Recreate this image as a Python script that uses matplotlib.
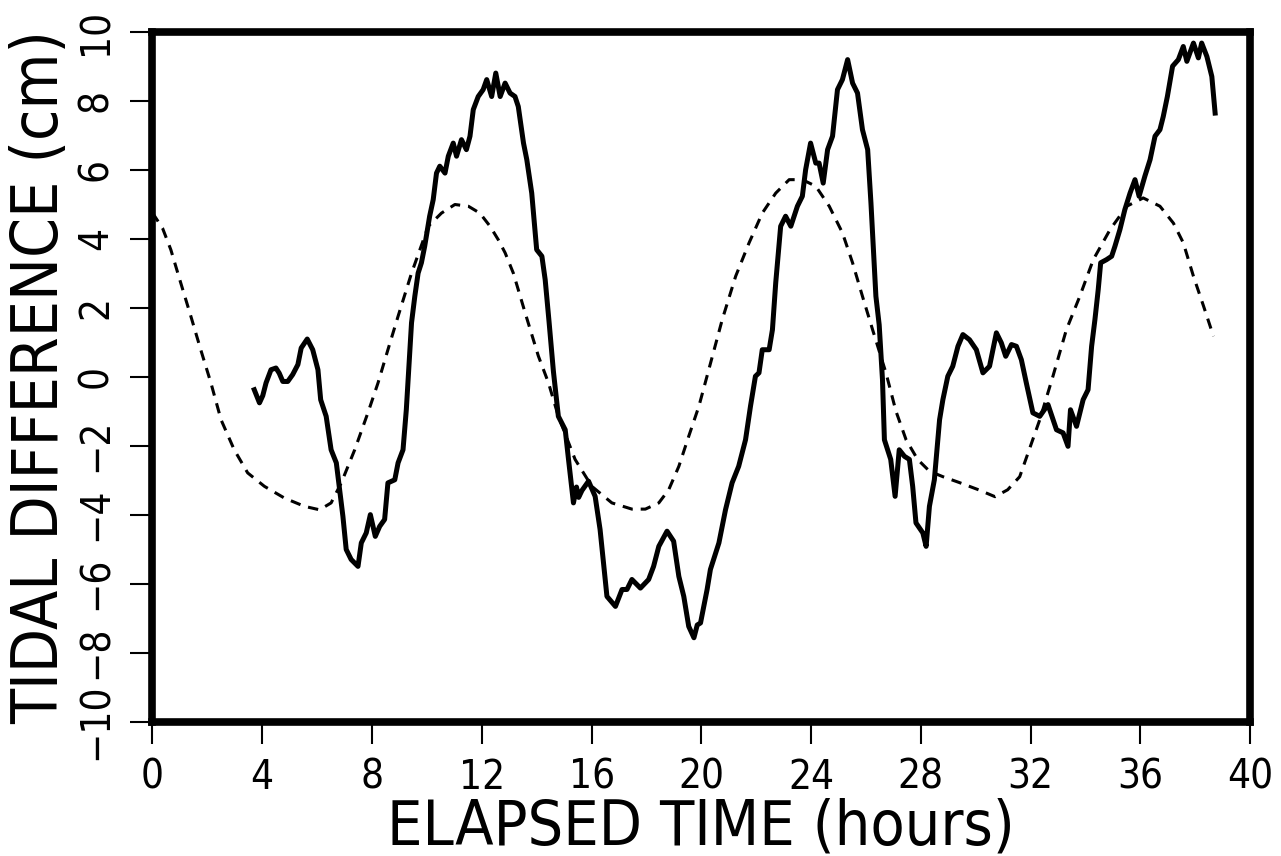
import matplotlib
matplotlib.use("Agg")
import matplotlib.pyplot as plt
from matplotlib import font_manager

# observed tidal difference (solid)
obs_time = [3.71, 3.9, 4.02, 4.14, 4.32, 4.5, 4.62, 4.75, 4.93, 5.11, 5.3, 5.42, 5.64, 5.84,
            6.03, 6.13, 6.33, 6.51, 6.7, 6.82, 6.94, 7.06, 7.24, 7.49, 7.61, 7.79, 7.94, 8.12,
            8.28, 8.46, 8.58, 8.83, 8.95, 9.13, 9.25, 9.38, 9.44, 9.56, 9.68, 9.8, 9.92, 10.1,
            10.23, 10.35, 10.47, 10.66, 10.78, 10.96, 11.08, 11.26, 11.44, 11.57, 11.69, 11.87,
            12.05, 12.18, 12.36, 12.51, 12.67, 12.85, 13.03, 13.21, 13.33, 13.52, 13.64, 13.82,
            14.0, 14.19, 14.31, 14.45, 14.61, 14.79, 15.04, 15.16, 15.34, 15.45, 15.53, 15.65,
            15.89, 16.13, 16.31, 16.56, 16.87, 17.11, 17.29, 17.47, 17.78, 18.08, 18.26, 18.45,
            18.75, 18.99, 19.18, 19.36, 19.54, 19.73, 19.85, 19.97, 20.21, 20.33, 20.64, 20.88,
            21.12, 21.36, 21.61, 21.79, 21.97, 22.1, 22.22, 22.47, 22.59, 22.71, 22.89, 23.07,
            23.26, 23.5, 23.68, 23.8, 23.98, 24.17, 24.29, 24.44, 24.6, 24.78, 24.96, 25.14,
            25.33, 25.51, 25.69, 25.87, 26.06, 26.18, 26.36, 26.48, 26.6, 26.67, 26.9, 27.06,
            27.21, 27.4, 27.58, 27.7, 27.82, 28.07, 28.19, 28.31, 28.49, 28.68, 28.8, 28.98,
            29.16, 29.35, 29.53, 29.77, 30.02, 30.26, 30.5, 30.75, 30.93, 31.09, 31.3, 31.48,
            31.66, 31.84, 32.08, 32.33, 32.63, 32.94, 33.18, 33.36, 33.45, 33.67, 33.91, 34.09,
            34.22, 34.34, 34.46, 34.55, 34.76, 34.95, 35.07, 35.25, 35.43, 35.62, 35.8, 35.95,
            36.16, 36.35, 36.53, 36.71, 36.83, 36.98, 37.17, 37.38, 37.56, 37.69, 37.93, 38.11,
            38.23, 38.42, 38.6, 38.72]
obs_diff = [-0.38, -0.76, -0.55, -0.18, 0.2, 0.25, 0.1, -0.14, -0.14, 0.06, 0.35, 0.83, 1.09, 0.78,
            0.2, -0.67, -1.15, -2.12, -2.5, -3.28, -4.05, -5.01, -5.3, -5.5, -4.82, -4.53, -4.0, -4.63,
            -4.34, -4.14, -3.08, -2.99, -2.5, -2.12, -0.96, 0.78, 1.56, 2.33, 3.0, 3.3, 3.78, 4.65,
            5.13, 5.9, 6.1, 5.9, 6.39, 6.77, 6.39, 6.87, 6.58, 6.97, 7.74, 8.12,
            8.32, 8.61, 8.12, 8.8, 8.12, 8.51, 8.22, 8.12, 7.83, 6.77, 6.29, 5.32,
            3.68, 3.49, 2.81, 1.6, 0.15, -1.15, -1.54, -2.4, -3.66, -3.2, -3.5, -3.3,
            -3.03, -3.47, -4.43, -6.37, -6.66, -6.17, -6.17, -5.88, -6.13, -5.88, -5.5, -4.92,
            -4.48, -4.77, -5.79, -6.37, -7.24, -7.57, -7.2, -7.14, -6.17, -5.59, -4.82, -3.86,
            -3.08, -2.6, -1.83, -0.86, 0.01, 0.11, 0.78, 0.78, 1.36, 2.72, 4.36, 4.65,
            4.36, 4.94, 5.23, 6.0, 6.77, 6.19, 6.19, 5.61, 6.58, 6.97, 8.32, 8.61,
            9.19, 8.51, 8.22, 7.16, 6.58, 5.03, 2.33, 1.5, -0.09, -1.83, -2.4, -3.47,
            -2.12, -2.31, -2.4, -3.18, -4.24, -4.53, -4.92, -3.76, -2.99, -1.25, -0.67, 0.01,
            0.3, 0.88, 1.22, 1.07, 0.78, 0.11, 0.3, 1.27, 0.98, 0.59, 0.93, 0.88,
            0.49, -0.18, -1.05, -1.15, -0.81, -1.54, -1.63, -2.02, -0.96, -1.44, -0.67, -0.38,
            0.88, 1.65, 2.52, 3.3, 3.39, 3.49, 3.78, 4.26, 4.84, 5.32, 5.71, 5.23,
            5.81, 6.29, 6.97, 7.16, 7.54, 8.12, 9.0, 9.19, 9.57, 9.14, 9.67, 9.24,
            9.67, 9.28, 8.7, 7.64]

# predicted tidal difference (dashed)
pred_time = [0.0, 0.37, 0.67, 1.03, 1.4, 1.76, 2.13, 2.5, 2.98, 3.47, 4.08, 4.81, 5.54, 6.09,
             6.51, 6.88, 7.37, 7.85, 8.22, 8.58, 8.95, 9.44, 10.05, 10.53, 11.02, 11.51, 11.93,
             12.3, 12.6, 12.85, 13.15, 13.58, 14.06, 14.43, 14.79, 15.4, 16.01, 16.74, 17.47,
             17.96, 18.45, 18.81, 19.18, 19.54, 19.91, 20.27, 20.76, 21.25, 21.74, 22.22, 22.71,
             23.2, 23.68, 24.17, 24.66, 25.14, 25.51, 25.87, 26.24, 26.73, 27.09, 27.46, 27.88,
             28.31, 28.8, 29.4, 30.1, 30.7, 31.16, 31.6, 32.33, 32.81, 33.3, 33.79, 34.28, 34.89,
             35.5, 36.1, 36.71, 37.2, 37.56, 37.93, 38.3, 38.66]
pred_diff = [4.75, 4.3, 3.68, 2.72, 1.75, 0.78, -0.18, -1.25, -2.12, -2.79, -3.18, -3.52, -3.76, -3.86,
             -3.66, -3.08, -2.12, -1.05, -0.18, 0.78, 1.75, 3.0, 4.36, 4.74, 4.99, 4.94, 4.74,
             4.36, 3.97, 3.59, 3.0, 1.85, 0.6, -0.18, -1.15, -2.4, -3.18, -3.66, -3.84,
             -3.84, -3.66, -3.28, -2.6, -1.73, -0.86, 0.2, 1.65, 2.91, 3.88, 4.74, 5.32,
             5.71, 5.71, 5.52, 4.94, 4.17, 3.3, 2.33, 1.36, 0.1, -1.0, -1.83, -2.4,
             -2.74, -2.9, -3.07, -3.28, -3.48, -3.28, -2.9, -1.25, 0.01, 1.36, 2.33, 3.39, 4.26,
             4.94, 5.18, 4.94, 4.45, 3.88, 2.91, 2.04, 1.17]

x_ticks = list(range(0, 41, 4))
y_ticks = list(range(-10, 11, 2))


def narrow_font():
    # look for a condensed / narrow face by file name, else plain DejaVu Sans
    files = [f.fname for f in font_manager.fontManager.ttflist]
    for key in ["LiberationSansNarrow-Regular", "DejaVuSansCondensed.", "DejaVuSansCondensed-"]:
        for fn in files:
            if key in fn.replace("\\", "/").split("/")[-1]:
                return fn
    for fn in font_manager.findSystemFonts():
        name = fn.split("/")[-1]
        if "Condensed" in name and "Bold" not in name and "Oblique" not in name:
            return fn
    return None


path = narrow_font()
if path:
    font_manager.fontManager.addfont(path)
    plt.rcParams["font.family"] = font_manager.FontProperties(fname=path).get_name()
    plt.rcParams["font.stretch"] = "condensed"

fig = plt.figure(figsize=(12.81, 8.56), dpi=100)
ax = fig.add_axes([0.119, 0.157, 0.857, 0.806])

ax.plot(pred_time, pred_diff, color="black", lw=2.2, linestyle=(0, (3.4, 2.6)))
ax.plot(obs_time, obs_diff, color="black", lw=3.6, solid_joinstyle="round")

ax.set_xlim(0, 40)
ax.set_ylim(-10, 10)
ax.set_xticks(x_ticks)
ax.set_yticks(y_ticks)
ax.set_xticklabels([str(t) for t in x_ticks])
ax.set_yticklabels([str(t).replace("-", "\u2212") for t in y_ticks], rotation=90, va="center")

for s in ax.spines.values():
    s.set_linewidth(5.5)
ax.tick_params(direction="out", length=16, width=1.5, labelsize=29, pad=10)

ax.set_xlabel("ELAPSED TIME (hours)", fontsize=45, labelpad=0)
ax.set_ylabel("TIDAL DIFFERENCE (cm)", fontsize=46, labelpad=4)

fig.savefig("out.png", dpi=100)
